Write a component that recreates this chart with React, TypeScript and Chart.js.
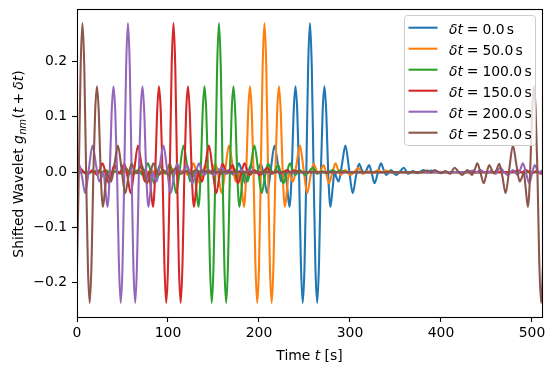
import React, { useEffect, useRef } from 'react';
import { Chart, registerables } from 'chart.js';

Chart.register(...registerables);

// ---------------- data ----------------
const COLORS = ['#1f77b4', '#ff7f0e', '#2ca02c', '#d62728', '#9467bd', '#8c564b'];
const SHIFTS = [0, 50, 100, 150, 200, 250];
const WAVELET_CENTER = 256; // peak position of the unshifted wavelet [s]
const PERIOD = 512; // circular time span [s]
const T_MIN = 0;
const T_MAX = 511;
const X_TICKS = [0, 100, 200, 300, 400, 500];
const Y_TICKS = [-0.2, -0.1, 0.0, 0.1, 0.2];

// Wavelet: offset from its peak [s] and value (right half; the trace is symmetric)
const WAVE_OFFSETS = [
  0, 2, 4, 6, 8, 10, 12, 14, 16, 18, 20, 22.5, 25, 27, 29, 31.5, 35, 39, 43, 47,
  50.5, 54, 57, 60, 62.5, 65, 68, 71, 74.5, 78, 81, 84, 89, 94.5, 99, 103, 108,
  113, 118, 125, 129, 133, 140, 160, 200,
];
const WAVE_VALUES = [
  0.2695, 0.19, 0.0, -0.172, -0.2365, -0.162, 0.0, 0.112, 0.155, 0.105, 0.0, -0.063,
  -0.028, 0.0, -0.009, -0.017, 0.012, 0.048, 0.005, -0.038, -0.008, 0.015, 0.004,
  -0.002, 0.005, 0.013, -0.003, -0.02, -0.002, 0.016, 0.004, -0.005, 0.004, -0.005,
  0.001, 0.008, -0.003, 0.002, -0.002, 0.004, -0.001, 0.003, 0.0, 0.0, 0.0,
];

// ---------------- helpers ----------------
const FONT = '"DejaVu Sans", sans-serif';
const FS = 13.9;

type Seg = { t: string; i?: boolean; sub?: boolean; gap?: number };

function segFont(s: Seg, size: number) {
  return `${s.i ? 'italic ' : ''}${s.sub ? size * 0.7 : size}px ${FONT}`;
}

function drawRich(ctx: CanvasRenderingContext2D, segs: Seg[], x: number, y: number, size: number, align: 'center' | 'left') {
  ctx.save();
  ctx.textBaseline = 'alphabetic';
  ctx.textAlign = 'left';
  let total = 0;
  const widths = segs.map((s) => {
    ctx.font = segFont(s, size);
    const w = ctx.measureText(s.t).width;
    total += (s.gap || 0) + w;
    return w;
  });
  let cx = align === 'center' ? x - total / 2 : x;
  segs.forEach((s, k) => {
    cx += s.gap || 0;
    ctx.font = segFont(s, size);
    ctx.fillText(s.t, cx, y + (s.sub ? size * 0.22 : 0));
    cx += widths[k];
  });
  ctx.restore();
}

function buildProfile() {
  const pts: { u: number; v: number }[] = [];
  for (let k = WAVE_OFFSETS.length - 1; k > 0; k--) pts.push({ u: -WAVE_OFFSETS[k], v: WAVE_VALUES[k] });
  for (let k = 0; k < WAVE_OFFSETS.length; k++) pts.push({ u: WAVE_OFFSETS[k], v: WAVE_VALUES[k] });
  return pts;
}

function seriesFor(shift: number) {
  const prof = buildProfile();
  const out: { x: number; y: number }[] = [];
  for (const copy of [-PERIOD, 0, PERIOD]) {
    for (const p of prof) {
      const x = WAVELET_CENTER - shift + p.u + copy;
      if (x >= T_MIN - 40 && x <= T_MAX + 40) out.push({ x, y: p.v });
    }
  }
  out.sort((a, b) => a.x - b.x);
  return out;
}

const labelFor = (d: number) => `δt = ${d.toFixed(1)} s`;

const decorPlugin = {
  id: 'decor',
  afterDraw(chart: any) {
    const ctx: CanvasRenderingContext2D = chart.ctx;
    const a = chart.chartArea;
    ctx.save();
    // frame
    ctx.strokeStyle = '#000';
    ctx.lineWidth = 1.1;
    ctx.strokeRect(Math.round(a.left) + 0.5, Math.round(a.top) + 0.5, Math.round(a.right) - Math.round(a.left), Math.round(a.bottom) - Math.round(a.top));
    ctx.fillStyle = '#000';
    // x title
    drawRich(ctx, [{ t: 'Time ' }, { t: 't', i: true }, { t: ' [s]' }], (a.left + a.right) / 2, 359.6, FS, 'center');
    // y title
    ctx.save();
    ctx.translate(23, (a.top + a.bottom) / 2 + 1);
    ctx.rotate(-Math.PI / 2);
    drawRich(
      ctx,
      [
        { t: 'Shifted Wavelet ' },
        { t: 'g', i: true },
        { t: 'nm', i: true, sub: true, gap: 0.5 },
        { t: '(', gap: 0.5 },
        { t: 't', i: true },
        { t: '+', gap: 3.1 },
        { t: 'δt', i: true, gap: 3.1 },
        { t: ')' },
      ],
      0,
      0,
      FS,
      'center'
    );
    ctx.restore();
    // legend
    const L = 404.5, T = 15.5, R = 535.5, B = 145.5, rad = 3;
    ctx.beginPath();
    ctx.moveTo(L + rad, T);
    ctx.lineTo(R - rad, T);
    ctx.arcTo(R, T, R, T + rad, rad);
    ctx.lineTo(R, B - rad);
    ctx.arcTo(R, B, R - rad, B, rad);
    ctx.lineTo(L + rad, B);
    ctx.arcTo(L, B, L, B - rad, rad);
    ctx.lineTo(L, T + rad);
    ctx.arcTo(L, T, L + rad, T, rad);
    ctx.closePath();
    ctx.fillStyle = 'rgba(255,255,255,0.8)';
    ctx.fill();
    ctx.strokeStyle = '#cccccc';
    ctx.lineWidth = 1;
    ctx.stroke();
    SHIFTS.forEach((d, k) => {
      const yy = 27.7 + k * 21;
      ctx.strokeStyle = COLORS[k];
      ctx.lineWidth = 2.08;
      ctx.beginPath();
      ctx.moveTo(408.5, yy);
      ctx.lineTo(437.5, yy);
      ctx.stroke();
      ctx.fillStyle = '#000';
      drawRich(
        ctx,
        [
          { t: 'δt', i: true },
          { t: '=', gap: 3.9 },
          { t: d.toFixed(1), gap: 3.9 },
          { t: 's', gap: 2.3 },
        ],
        449,
        yy + 6.5,
        FS,
        'left'
      );
    });
    ctx.restore();
  },
};

export default function App() {
  const ref = useRef<HTMLCanvasElement | null>(null);
  useEffect(() => {
    if (!ref.current) return;
    const yMin = Math.min(...WAVE_VALUES);
    const yMax = Math.max(...WAVE_VALUES);
    const pad = (yMax - yMin) * 0.05;
    const chart = new Chart(ref.current, {
      type: 'line',
      data: {
        datasets: SHIFTS.map((d, k) => ({
          label: labelFor(d),
          data: seriesFor(d),
          borderColor: COLORS[k],
          backgroundColor: COLORS[k],
          borderWidth: 2.08,
          pointRadius: 0,
          pointHoverRadius: 0,
          fill: false,
          cubicInterpolationMode: 'monotone',
          borderJoinStyle: 'round',
          order: SHIFTS.length - k,
        })),
      },
      options: {
        animation: false,
        responsive: false,
        devicePixelRatio: 1,
        events: [],
        layout: { padding: { left: 0, right: 13, top: 9, bottom: 0 } },
        plugins: { legend: { display: false }, tooltip: { enabled: false }, title: { display: false } },
        scales: {
          x: {
            type: 'linear',
            min: T_MIN,
            max: T_MAX,
            afterFit: (s: any) => {
              s.height = 56;
              s.paddingLeft = 0;
              s.paddingRight = 0;
            },
            afterBuildTicks: (s: any) => {
              s.ticks = X_TICKS.map((v) => ({ value: v }));
            },
            ticks: {
              color: '#000',
              font: { family: FONT, size: FS },
              padding: 3,
              maxRotation: 0,
              autoSkip: false,
              callback: (v: any) => String(v),
            },
            grid: { display: true, drawOnChartArea: false, drawTicks: true, tickLength: 5, tickColor: '#000', tickWidth: 1.1, color: '#000' },
            border: { display: false },
          },
          y: {
            type: 'linear',
            min: yMin - pad,
            max: yMax + pad,
            afterFit: (s: any) => {
              s.width = 77;
              s.paddingTop = 0;
              s.paddingBottom = 0;
            },
            afterBuildTicks: (s: any) => {
              s.ticks = Y_TICKS.map((v) => ({ value: v }));
            },
            ticks: {
              color: '#000',
              font: { family: FONT, size: FS },
              padding: 5,
              autoSkip: false,
              callback: (v: any) => (v < -1e-9 ? '−' : '') + Math.abs(v).toFixed(1),
            },
            grid: { display: true, drawOnChartArea: false, drawTicks: true, tickLength: 5, tickColor: '#000', tickWidth: 1.1, color: '#000' },
            border: { display: false },
          },
        },
      },
      plugins: [decorPlugin],
    } as any);
    return () => chart.destroy();
  }, []);
  return (
    <div style={{ position: 'absolute', left: 0, top: 0, width: 555, height: 373, background: '#fff' }}>
      <canvas ref={ref} width={555} height={373} style={{ display: 'block', width: 555, height: 373 }} />
    </div>
  );
}
